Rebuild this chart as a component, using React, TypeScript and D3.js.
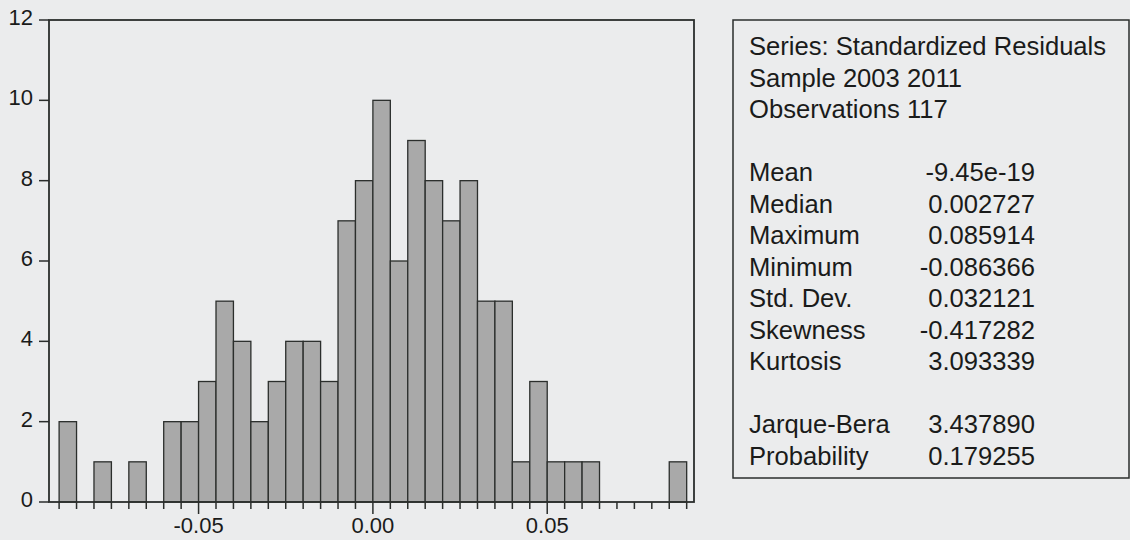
import React, { useRef, useEffect } from 'react';
import * as d3 from 'd3';

// histogram bins (lower edge of each bin), bin width 0.005
const binStarts = [
  -0.09, -0.085, -0.08, -0.075, -0.07, -0.065, -0.06, -0.055, -0.05, -0.045,
  -0.04, -0.035, -0.03, -0.025, -0.02, -0.015, -0.01, -0.005, 0.0, 0.005,
  0.01, 0.015, 0.02, 0.025, 0.03, 0.035, 0.04, 0.045, 0.05, 0.055,
  0.06, 0.065, 0.07, 0.075, 0.08, 0.085,
];
const binWidth = 0.005;
const counts = [
  2, 0, 1, 0, 1, 0, 2, 2, 3, 5,
  4, 2, 3, 4, 4, 3, 7, 8, 10, 6,
  9, 8, 7, 8, 5, 5, 1, 3, 1, 1,
  1, 0, 0, 0, 0, 1,
];

const yTicks = [0, 2, 4, 6, 8, 10, 12];
const xMajorTicks = [-0.05, 0, 0.05];
const xTickLabels = ['-0.05', '0.00', '0.05'];

const headerLines = ['Series: Standardized Residuals', 'Sample 2003 2011', 'Observations 117'];
const statLabels = ['Mean', 'Median', 'Maximum', 'Minimum', 'Std. Dev.', 'Skewness', 'Kurtosis'];
const statValues = ['-9.45e-19', '0.002727', '0.085914', '-0.086366', '0.032121', '-0.417282', '3.093339'];
const testLabels = ['Jarque-Bera', 'Probability'];
const testValues = ['3.437890', '0.179255'];

const W = 1130;
const H = 540;
const FONT = "'Liberation Sans', Arial, sans-serif";

export default function App() {
  const svgRef = useRef<SVGSVGElement>(null);

  useEffect(() => {
    const svg = d3.select(svgRef.current);
    svg.selectAll('*').remove();

    const bg = '#ebeced';
    const ink = '#2b2e2c';
    const textInk = '#1a1b1a';

    svg.append('rect').attr('width', W).attr('height', H).attr('fill', bg);

    // plot area
    const left = 49, right = 694, top = 20, bottom = 502;
    const x = d3.scaleLinear().domain([-0.0929, 0.0921]).range([left, right]);
    const y = d3.scaleLinear().domain([0, 12]).range([bottom, top]);

    // bars
    const bins = binStarts.map((s, i) => ({ x0: s, x1: s + binWidth, n: counts[i] })).filter(d => d.n > 0);
    svg.append('g')
      .selectAll('rect')
      .data(bins)
      .enter()
      .append('rect')
      .attr('x', d => x(d.x0))
      .attr('y', d => y(d.n))
      .attr('width', d => x(d.x1) - x(d.x0))
      .attr('height', d => y(0) - y(d.n))
      .attr('fill', '#a9a9a9')
      .attr('stroke', ink)
      .attr('stroke-width', 1.3);

    // frame
    svg.append('rect')
      .attr('x', left).attr('y', top)
      .attr('width', right - left).attr('height', bottom - top)
      .attr('fill', 'none')
      .attr('stroke', ink)
      .attr('stroke-width', 1.8);

    // y axis ticks + labels
    const yg = svg.append('g');
    yTicks.forEach(t => {
      yg.append('line')
        .attr('x1', left - 10).attr('x2', left)
        .attr('y1', y(t)).attr('y2', y(t))
        .attr('stroke', ink).attr('stroke-width', 1.5);
      yg.append('text')
        .attr('x', left - 16)
        .attr('y', y(t))
        .attr('dy', '0.22em')
        .attr('text-anchor', 'end')
        .style('font-family', FONT)
        .style('font-size', '22px')
        .style('fill', textInk)
        .text(t);
    });

    // x axis minor ticks at bin edges, major at labels
    const edges = binStarts.concat([binStarts[binStarts.length - 1] + binWidth]);
    const xg = svg.append('g');
    edges.forEach(e => {
      const major = xMajorTicks.some(m => Math.abs(m - e) < 1e-9);
      xg.append('line')
        .attr('x1', x(e)).attr('x2', x(e))
        .attr('y1', bottom).attr('y2', bottom + (major ? 12 : 7))
        .attr('stroke', ink).attr('stroke-width', 1.5);
    });
    xMajorTicks.forEach((t, i) => {
      xg.append('text')
        .attr('x', x(t))
        .attr('y', 533)
        .attr('text-anchor', 'middle')
        .style('font-family', FONT)
        .style('font-size', '22px')
        .style('fill', textInk)
        .text(xTickLabels[i]);
    });

    // stats box
    const box = svg.append('g');
    box.append('rect')
      .attr('x', 733).attr('y', 20)
      .attr('width', 396).attr('height', 458)
      .attr('fill', 'none')
      .attr('stroke', ink)
      .attr('stroke-width', 1.5);

    const lineY = (row: number) => 55 + row * 31.5;
    const txt = (tx: number, row: number, s: string, anchor = 'start') =>
      box.append('text')
        .attr('x', tx)
        .attr('y', lineY(row))
        .attr('text-anchor', anchor)
        .style('font-family', FONT)
        .style('font-size', '25.6px')
        .style('fill', textInk)
        .text(s);

    headerLines.forEach((s, i) => txt(749, i, s));
    statLabels.forEach((s, i) => {
      txt(749, 4 + i, s);
      txt(1035, 4 + i, statValues[i], 'end');
    });
    testLabels.forEach((s, i) => {
      txt(749, 12 + i, s);
      txt(1035, 12 + i, testValues[i], 'end');
    });
  }, []);

  return (
    <svg
      ref={svgRef}
      width={W}
      height={H}
      style={{ position: 'absolute', left: 0, top: 0, display: 'block' }}
    />
  );
}
